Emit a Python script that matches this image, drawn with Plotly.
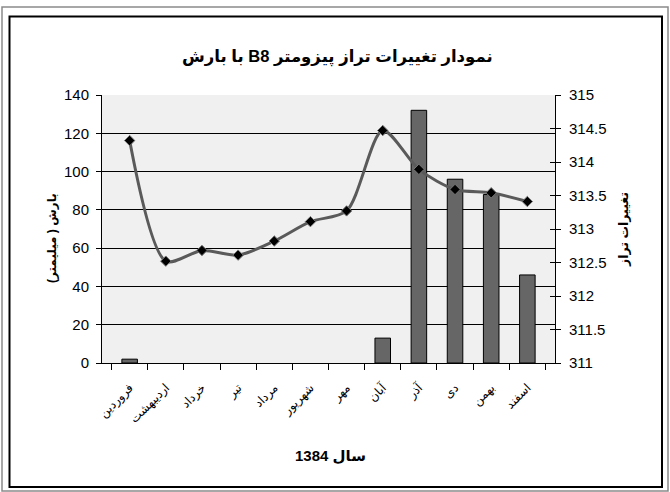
import plotly.graph_objects as go

months = ["فروردین", "اردیبهشت", "خرداد", "تیر", "مرداد", "شهریور",
          "مهر", "آبان", "آذر", "دی", "بهمن", "اسفند"]
rain = [2, 0, 0, 0, 0, 0, 0, 13, 132, 96, 88, 46]
level = [314.32, 312.52, 312.68, 312.61, 312.82, 313.11,
         313.27, 314.47, 313.89, 313.59, 313.54, 313.41]
rain_range = [0, 140]
level_range = [311, 315]

W, H = 670, 492
L, R, T, B = 102, 555, 95, 363
FONT = "Arial, Liberation Sans, DejaVu Sans, sans-serif"
RLE, PDF = "\u202b", "\u202c"

def px(x):
    return (x - L) / (R - L)

def py(y):
    return (B - y) / (B - T)

fig = go.Figure()
fig.add_trace(go.Bar(x=months, y=rain, width=0.43,
                     marker=dict(color="#666666",
                                 line=dict(color="#000000",
                                           width=[1 if v > 0 else 0 for v in rain])),
                     yaxis="y", showlegend=False))
fig.add_trace(go.Scatter(x=months, y=level, mode="lines+markers", yaxis="y2",
                         line=dict(color="#5a5a5a", width=3, shape="spline", smoothing=0.8),
                         marker=dict(symbol="diamond", size=8, color="#000000",
                                     line=dict(color="#777777", width=1)),
                         showlegend=False))
# helper traces so the inner tick axes are drawn
fig.add_trace(go.Scatter(x=[months[0]], y=[None], yaxis="y3", showlegend=False, hoverinfo="skip"))
fig.add_trace(go.Scatter(x=[months[0]], y=[None], yaxis="y4", showlegend=False, hoverinfo="skip"))

shapes = [
    dict(type="rect", xref="paper", yref="paper", x0=px(2), x1=px(668), y0=py(491), y1=py(7),
         line=dict(color="#8a8a8a", width=1.5), layer="below"),
    dict(type="rect", xref="paper", yref="paper", x0=px(9.5), x1=px(662), y0=py(487), y1=py(16.5),
         line=dict(color="#000000", width=2), layer="below"),
]

annotations = [
    dict(text="<b>" + RLE + "نمودار تغییرات تراز پیزومتر B8 با بارش" + PDF + "</b>",
         xref="paper", yref="paper", x=px(337), y=py(45), showarrow=False,
         font=dict(size=16.5, color="#000", family=FONT)),
    dict(text="<b>" + RLE + "بارش ( میلیمتر)" + PDF + "</b>", xref="paper", yref="paper",
         x=px(43), y=py(238), showarrow=False, textangle=-90,
         font=dict(size=12, color="#000", family=FONT)),
    dict(text="<b>" + RLE + "تغییرات تراز" + PDF + "</b>", xref="paper", yref="paper",
         x=px(633), y=py(230), showarrow=False, textangle=-90,
         font=dict(size=12.5, color="#000", family=FONT)),
    dict(text="<b>" + RLE + "سال 1384" + PDF + "</b>", xref="paper", yref="paper",
         x=px(330), y=py(466), showarrow=False,
         font=dict(size=15, color="#000", family=FONT)),
]

fig.update_layout(
    width=W, height=H,
    margin=dict(l=L, r=W - R, t=T, b=H - B, pad=0, autoexpand=False),
    paper_bgcolor="#ffffff", plot_bgcolor="#f0f0f0",
    font=dict(family=FONT, size=12, color="#000"),
    xaxis=dict(type="category", tickson="boundaries", ticks="outside", ticklen=6,
               tickcolor="#000", showline=True, linecolor="#000", linewidth=1,
               tickangle=-45, tickfont=dict(size=12, family=FONT, color="#000"),
               showgrid=False, ticklabelstandoff=12, automargin=False),
    yaxis=dict(range=rain_range, dtick=20, ticks="outside", ticklen=5, tickcolor="#000",
               showline=True, linecolor="#000", linewidth=1, showgrid=True,
               gridcolor="#000000", gridwidth=1, zeroline=False, automargin=False,
               ticklabelstandoff=4, tickfont=dict(size=15, family=FONT)),
    yaxis2=dict(range=level_range, dtick=0.5, overlaying="y", side="right",
                ticks="outside", ticklen=5, tickcolor="#000", showline=True,
                linecolor="#000", linewidth=1, showgrid=False, zeroline=False,
                automargin=False, ticklabelstandoff=5, tickfont=dict(size=15, family=FONT)),
    yaxis3=dict(range=rain_range, dtick=20, overlaying="y", side="left", ticks="inside",
                ticklen=5, tickcolor="#000", showticklabels=False, showgrid=False,
                zeroline=False, showline=False, automargin=False),
    yaxis4=dict(range=level_range, dtick=0.5, overlaying="y", side="right", ticks="inside",
                ticklen=5, tickcolor="#000", showticklabels=False, showgrid=False,
                zeroline=False, showline=False, automargin=False),
    shapes=shapes, annotations=annotations,
)

fig.write_html("out.html", config={"displayModeBar": False},
               post_script="document.body.style.margin='0';document.body.style.overflow='hidden';")
